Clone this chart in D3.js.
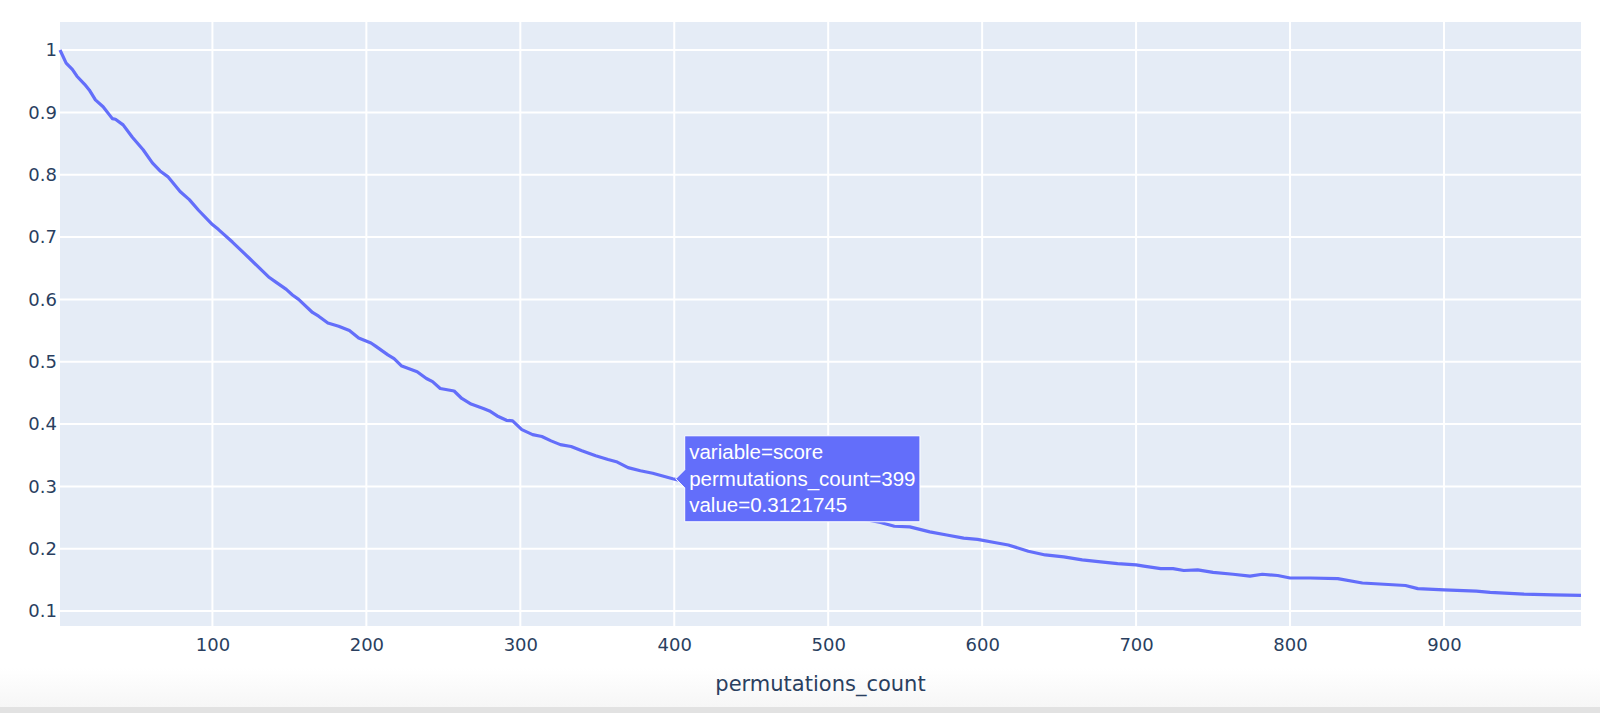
<!DOCTYPE html>
<html>
<head>
<meta charset="utf-8">
<script src="https://cdn.jsdelivr.net/npm/d3@7"></script>
<style>
  body { margin: 0; background: #fff; }
  svg { display: block; }
</style>
</head>
<body>
<div id="chart"></div>
<script>
// Data
var counts = [1, 5, 9, 12, 17, 20, 24, 29, 35, 37, 42, 48, 55, 61, 66, 71, 79, 85, 91, 100,
  104, 113, 124, 137, 141, 148, 152, 156, 165, 169, 175, 182, 189, 195, 203, 206, 214, 218, 223, 233,
  239, 243, 248, 257, 262, 268, 276, 280, 285, 291, 295, 301, 308, 314, 320, 326, 333, 340, 349, 357,
  363, 370, 378, 386, 399, 420, 440, 460, 480, 500, 513, 534, 543, 553, 566, 577, 588, 597, 608, 617,
  630, 641, 653, 665, 677, 688, 700, 705, 716, 724, 731, 740, 750, 763, 774, 782, 792, 800, 813, 831,
  847, 861, 875, 883, 900, 921, 930, 952, 971, 989];
var scores = [1.0, 0.979, 0.969, 0.958, 0.945, 0.936, 0.920, 0.909, 0.890, 0.889, 0.880, 0.860, 0.840, 0.819, 0.806, 0.797, 0.773, 0.760, 0.743, 0.720,
  0.712, 0.692, 0.666, 0.635, 0.628, 0.616, 0.607, 0.600, 0.579, 0.573, 0.562, 0.557, 0.550, 0.538, 0.530, 0.525, 0.511, 0.505, 0.493, 0.484,
  0.473, 0.468, 0.457, 0.453, 0.441, 0.432, 0.425, 0.421, 0.413, 0.406, 0.405, 0.391, 0.383, 0.380, 0.373, 0.367, 0.364, 0.357, 0.349, 0.343,
  0.339, 0.330, 0.325, 0.321, 0.3121745, 0.300, 0.288, 0.277, 0.267, 0.258, 0.252, 0.242, 0.236, 0.235, 0.227, 0.222, 0.217, 0.215, 0.210, 0.206,
  0.196, 0.190, 0.187, 0.182, 0.179, 0.176, 0.174, 0.172, 0.168, 0.168, 0.165, 0.166, 0.162, 0.159, 0.156, 0.159, 0.157, 0.153, 0.153, 0.152,
  0.145, 0.143, 0.141, 0.136, 0.134, 0.132, 0.130, 0.127, 0.126, 0.125];
var xTicks = [100, 200, 300, 400, 500, 600, 700, 800, 900];
var yTicks = [0.1, 0.2, 0.3, 0.4, 0.5, 0.6, 0.7, 0.8, 0.9, 1];
var hoverIndex = 64; // permutations_count=399
var hoverLines = ["variable=score", "permutations_count=399", "value=0.3121745"];

var svgWidth = 1600;
var svgHeight = 713;
var margin = { top: 22, right: 19, bottom: 87, left: 60 };
var width = svgWidth - margin.left - margin.right;
var height = svgHeight - margin.top - margin.bottom;

var tickColor = "#2a3f5f";
var tickFont = "'DejaVu Sans', Verdana, sans-serif";

var svg = d3.select("#chart")
  .append("svg")
  .attr("width", svgWidth)
  .attr("height", svgHeight);

// screenshot's bottom fade
var grad = svg.append("defs").append("linearGradient")
  .attr("id", "fade").attr("x1", 0).attr("x2", 0).attr("y1", 0).attr("y2", 1);
grad.append("stop").attr("offset", "0%").attr("stop-color", "#ffffff");
grad.append("stop").attr("offset", "100%").attr("stop-color", "#f6f6f6");
svg.append("rect").attr("x", 0).attr("y", 668).attr("width", svgWidth).attr("height", 40).attr("fill", "url(#fade)");
svg.append("rect").attr("x", 0).attr("y", 707).attr("width", svgWidth).attr("height", 6).attr("fill", "#e2e2e2");

var g = svg.append("g")
  .attr("transform", `translate(${margin.left}, ${margin.top})`);

// scales
var x = d3.scaleLinear()
  .domain([1, 989])
  .range([0, width]);
var y = d3.scaleLinear()
  .domain([0.076, 1.045])
  .range([height, 0]);

g.append("rect")
  .attr("width", width)
  .attr("height", height)
  .attr("fill", "#e5ecf6");

// grid
g.selectAll(".xgrid")
  .data(xTicks)
  .enter()
  .append("line")
  .attr("x1", d => x(d)).attr("x2", d => x(d))
  .attr("y1", 0).attr("y2", height)
  .attr("stroke", "#fff").attr("stroke-width", 2);
g.selectAll(".ygrid")
  .data(yTicks)
  .enter()
  .append("line")
  .attr("y1", d => y(d)).attr("y2", d => y(d))
  .attr("x1", 0).attr("x2", width)
  .attr("stroke", "#fff").attr("stroke-width", 2);

// axes (labels only)
var bottomAxis = d3.axisBottom(x).tickValues(xTicks).tickSize(0).tickPadding(12);
var leftAxis = d3.axisLeft(y).tickValues(yTicks).tickSize(0).tickPadding(3)
  .tickFormat(d => String(+d.toFixed(1)));

var xa = g.append("g")
  .attr("transform", `translate(0, ${height})`)
  .call(bottomAxis);
var ya = g.append("g")
  .call(leftAxis);
[xa, ya].forEach(function(a) {
  a.select(".domain").remove();
  a.selectAll("text")
    .attr("fill", tickColor)
    .style("font-family", tickFont)
    .style("font-size", "18px");
});

// line
var line = d3.line()
  .x((d, i) => x(counts[i]))
  .y(d => y(d));
g.append("path")
  .datum(scores)
  .attr("d", line)
  .attr("fill", "none")
  .attr("stroke", "#636efa")
  .attr("stroke-width", 3.2)
  .attr("stroke-linejoin", "round");

// axis title
g.append("text")
  .attr("x", width / 2)
  .attr("y", height + 65)
  .attr("text-anchor", "middle")
  .attr("fill", tickColor)
  .style("font-family", tickFont)
  .style("font-size", "21px")
  .text("permutations_count");

// hover label
var hx = x(counts[hoverIndex]) + 3;
var hy = y(scores[hoverIndex]);
var hover = g.append("g");
var hpath = hover.append("path")
  .attr("fill", "#636efa")
  .attr("stroke", "#fff")
  .attr("stroke-width", 1);
var htext = hover.append("text")
  .attr("fill", "#fff")
  .style("font-family", "'Liberation Sans', Arial, sans-serif")
  .style("font-size", "20.5px");
var lineH = 26.5;
htext.selectAll("tspan")
  .data(hoverLines)
  .enter()
  .append("tspan")
  .attr("x", hx + 9 + 4.5)
  .attr("y", (d, i) => hy + (i - 1) * lineH + 7)
  .text(d => d);
var tw = d3.max(htext.selectAll("tspan").nodes(), n => n.getComputedTextLength());
var bw = tw + 9;
var bh = 86;
var bx = hx + 9;
hpath.attr("d", `M${hx},${hy} L${bx},${hy - 9} L${bx},${hy - bh / 2} L${bx + bw},${hy - bh / 2} L${bx + bw},${hy + bh / 2} L${bx},${hy + bh / 2} L${bx},${hy + 9} Z`);
</script>
</body>
</html>
